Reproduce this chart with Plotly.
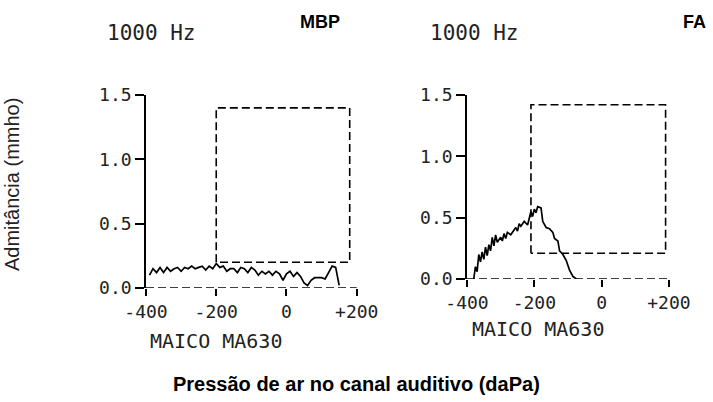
import plotly.graph_objects as go

# ---- data ----
mbp_pressure = [-390, -380, -370, -360, -350, -340, -330, -320, -310, -300, -290, -280, -270,
                -260, -250, -240, -230, -220, -210, -200, -190, -180, -170, -160, -150, -140,
                -130, -120, -110, -100, -90, -80, -70, -60, -50, -40, -30, -20, -10, 0, 10,
                20, 30, 40, 50, 60, 70, 80, 90, 100, 110, 120, 130, 140, 150]
mbp_admittance = [0.10, 0.15, 0.12, 0.16, 0.12, 0.16, 0.13, 0.15, 0.16, 0.13, 0.16, 0.15, 0.17,
                  0.15, 0.16, 0.17, 0.14, 0.17, 0.15, 0.19, 0.16, 0.17, 0.13, 0.15, 0.15, 0.12,
                  0.16, 0.15, 0.12, 0.16, 0.14, 0.10, 0.13, 0.11, 0.13, 0.10, 0.13, 0.11, 0.06,
                  0.11, 0.13, 0.09, 0.12, 0.09, 0.04, 0.02, 0.06, 0.08, 0.08, 0.08, 0.07, 0.12,
                  0.17, 0.16, 0.02]

fa_pressure = [-380, -375, -370, -365, -360, -355, -350, -345, -340, -335, -330, -325, -320,
               -315, -310, -300, -295, -290, -285, -280, -270, -260, -255, -250, -245, -240,
               -230, -220, -215, -210, -205, -200, -195, -190, -180, -175, -165, -155, -145,
               -140, -130, -125, -115, -105, -95, -85, -75]
fa_admittance = [0.00, 0.10, 0.06, 0.20, 0.14, 0.22, 0.16, 0.26, 0.19, 0.28, 0.23, 0.34, 0.27,
                 0.36, 0.30, 0.34, 0.31, 0.37, 0.33, 0.38, 0.36, 0.40, 0.42, 0.39, 0.45, 0.43,
                 0.47, 0.44, 0.50, 0.55, 0.51, 0.57, 0.54, 0.59, 0.58, 0.47, 0.42, 0.41, 0.38,
                 0.33, 0.31, 0.23, 0.20, 0.15, 0.07, 0.02, 0.00]

baseline_x = [-400, 200]
baseline_y = [0, 0]

mbp_box_x = [-200, -200, 180, 180, -200]
mbp_box_y = [0.2, 1.4, 1.4, 0.2, 0.2]
fa_box_x = [-210, -210, 190, 190, -210]
fa_box_y = [0.21, 1.42, 1.42, 0.21, 0.21]

y_ticks = [0, 0.5, 1.0, 1.5]
y_tick_text = ["0.0", "0.5", "1.0", "1.5"]
x_ticks = [-400, -200, 0, 200]
x_tick_text = ["-400", "-200", "0", "+200"]

panel_titles = ["MBP", "FA"]
freq_label = "1000 Hz"
device_label = "MAICO MA630"
y_title = "Admitância (mmho)"
x_title = "Pressão de ar no canal auditivo (daPa)"

W, H = 713, 402
MONO = "DejaVu Sans Mono"
SANS = "Liberation Sans, Arial"

fig = go.Figure()

panels = [
    dict(xa="x", ya="y", px=mbp_pressure, py=mbp_admittance, bx=mbp_box_x, by=mbp_box_y),
    dict(xa="x2", ya="y2", px=fa_pressure, py=fa_admittance, bx=fa_box_x, by=fa_box_y),
]
for p in panels:
    fig.add_trace(go.Scatter(x=baseline_x, y=baseline_y, mode="lines", xaxis=p["xa"], yaxis=p["ya"],
                             line=dict(color="black", width=1.6, dash="8px,4px"), hoverinfo="skip"))
    fig.add_trace(go.Scatter(x=p["bx"], y=p["by"], mode="lines", xaxis=p["xa"], yaxis=p["ya"],
                             line=dict(color="black", width=1.6, dash="8px,4px"), hoverinfo="skip"))
    fig.add_trace(go.Scatter(x=p["px"], y=p["py"], mode="lines", xaxis=p["xa"], yaxis=p["ya"],
                             line=dict(color="black", width=1.7), hoverinfo="skip"))

def xaxis(domain, anchor):
    return dict(domain=domain, anchor=anchor, range=[-400, 215], showgrid=False, zeroline=False,
                showline=False, tickmode="array", tickvals=x_ticks, ticktext=x_tick_text,
                ticks="outside", ticklen=7, tickwidth=1.5, tickcolor="black", ticklabelstandoff=0,
                tickfont=dict(family=MONO, size=18, color="#222"))

def yaxis(domain, anchor):
    return dict(domain=domain, anchor=anchor, range=[0, 1.5], showgrid=False, zeroline=False,
                showline=True, linecolor="black", linewidth=1.6,
                tickmode="array", tickvals=y_ticks, ticktext=y_tick_text,
                ticks="outside", ticklen=9, tickwidth=1.5, tickcolor="black",
                tickfont=dict(family=MONO, size=18, color="#222"))

fig.update_layout(
    width=W, height=H,
    margin=dict(l=0, r=0, t=0, b=0, autoexpand=False),
    paper_bgcolor="white", plot_bgcolor="white",
    showlegend=False,
    xaxis=xaxis([146 / W, 362 / W], "y"),
    yaxis=yaxis([(H - 288) / H, (H - 95) / H], "x"),
    xaxis2=xaxis([467 / W, 674 / W], "y2"),
    yaxis2=yaxis([(H - 279) / H, (H - 95) / H], "x2"),
)

ann = [
    dict(text=freq_label, x=151 / W, y=1 - 33 / H, font=dict(family=MONO, size=21, color="#222")),
    dict(text=freq_label, x=475 / W, y=1 - 33 / H, font=dict(family=MONO, size=21, color="#222")),
    dict(text="<b>" + panel_titles[0] + "</b>", x=320 / W, y=1 - 22 / H, font=dict(family=SANS, size=18, color="black")),
    dict(text="<b>" + panel_titles[1] + "</b>", x=694 / W, y=1 - 22 / H, font=dict(family=SANS, size=18, color="black")),
    dict(text=device_label, x=216 / W, y=1 - 341 / H, font=dict(family=MONO, size=20, color="#222")),
    dict(text=device_label, x=538 / W, y=1 - 329 / H, font=dict(family=MONO, size=20, color="#222")),
    dict(text=y_title, x=12 / W, y=1 - 185 / H, textangle=-90, font=dict(family=SANS, size=20, color="#222")),
    dict(text="<b>" + x_title + "</b>", x=356 / W, y=1 - 384 / H, font=dict(family=SANS, size=20, color="black")),
]
for a in ann:
    a.update(xref="paper", yref="paper", showarrow=False, xanchor="center", yanchor="middle")
fig.update_layout(annotations=ann)

fig.write_html("out.html", config={"displayModeBar": False},
               post_script="document.body.style.margin='0';")
